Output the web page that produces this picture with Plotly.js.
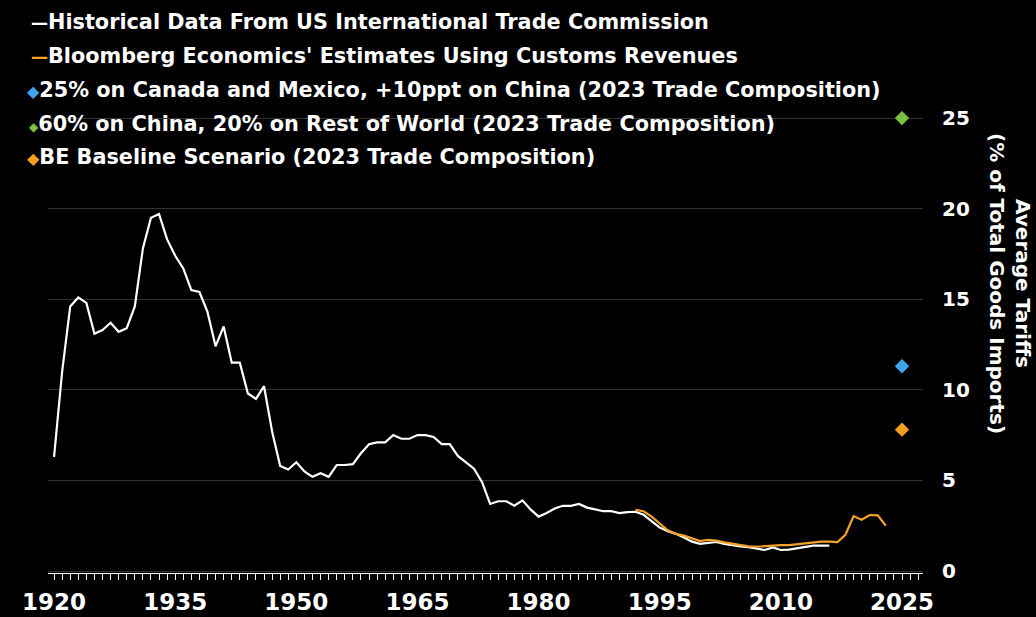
<!DOCTYPE html>
<html>
<head>
<meta charset="utf-8">
<script src="https://cdn.plot.ly/plotly-3.0.1.min.js"></script>
<style>
html,body{margin:0;padding:0;background:#000;}
#chart{width:1036px;height:617px;}
</style>
</head>
<body>
<div id="chart"></div>
<script>
// ---- data ----
const histYears = [];
for (let y = 1920; y <= 2016; y++) histYears.push(y);
const histValues = [
  6.3, 11.0, 14.6, 15.1, 14.8, 13.1, 13.3, 13.7, 13.2, 13.4,
  14.6, 17.8, 19.5, 19.7, 18.3, 17.4, 16.7, 15.5, 15.4, 14.3,
  12.4, 13.5, 11.5, 11.5, 9.8, 9.5, 10.2, 7.7, 5.8, 5.6,
  6.0, 5.5, 5.2, 5.4, 5.2, 5.85, 5.85, 5.9, 6.5, 7.0,
  7.1, 7.1, 7.5, 7.3, 7.3, 7.5, 7.5, 7.4, 7.0, 7.0,
  6.35, 6.0, 5.65, 4.9, 3.7, 3.85, 3.85, 3.6, 3.9, 3.4,
  3.0, 3.2, 3.45, 3.6, 3.6, 3.7, 3.5, 3.4, 3.3, 3.3,
  3.2, 3.25, 3.27, 3.1, 2.75, 2.4, 2.2, 2.05, 1.85, 1.62,
  1.5, 1.55, 1.6, 1.5, 1.42, 1.36, 1.32, 1.25, 1.16, 1.3,
  1.16, 1.18, 1.25, 1.32, 1.4, 1.4, 1.4
];
const estYears = [];
for (let y = 1992; y <= 2023; y++) estYears.push(y);
const estValues = [
  3.37, 3.3, 3.0, 2.6, 2.25, 2.05, 1.95, 1.8, 1.65, 1.72,
  1.68, 1.58, 1.5, 1.4, 1.36, 1.34, 1.38, 1.43, 1.43, 1.43,
  1.48, 1.53, 1.58, 1.62, 1.62, 1.6, 2.0, 3.03, 2.83, 3.09,
  3.07, 2.5
];
const scenarioYear = [2025];
const scenCanMex = [11.3];
const scenChinaRow = [25.0];
const scenBaseline = [7.8];

const seriesNames = [
  "Historical Data From US International Trade Commission",
  "Bloomberg Economics' Estimates Using Customs Revenues",
  "25% on Canada and Mexico, +10ppt on China (2023 Trade Composition)",
  "60% on China, 20% on Rest of World (2023 Trade Composition)",
  "BE Baseline Scenario (2023 Trade Composition)"
];
const seriesColors = ["#ffffff", "#f2a22a", "#41a5ee", "#79c043", "#f5a020"];
const xTickVals = [1920, 1935, 1950, 1965, 1980, 1995, 2010, 2025];
const yTickVals = [0, 5, 10, 15, 20, 25];
const yTitle = "Average Tariffs<br>(% of Total Goods Imports)";

// ---- geometry helpers (pixel -> paper) ----
const W = 1036, H = 617;
const M = {l: 48, r: 113, t: 5, b: 44};
const pw = W - M.l - M.r, ph = H - M.t - M.b;
const px = x => (x - M.l) / pw;
const py = y => (H - M.b - y) / ph;

const FONT = "DejaVu Sans, Verdana, sans-serif";

const traces = [
  {x: histYears, y: histValues, type: "scatter", mode: "lines", name: seriesNames[0],
   line: {color: seriesColors[0], width: 2.2}},
  {x: estYears, y: estValues, type: "scatter", mode: "lines", name: seriesNames[1],
   line: {color: seriesColors[1], width: 2.2}},
  {x: scenarioYear, y: scenCanMex, type: "scatter", mode: "markers", name: seriesNames[2],
   marker: {symbol: "diamond", size: 11, color: seriesColors[2]}},
  {x: scenarioYear, y: scenChinaRow, type: "scatter", mode: "markers", name: seriesNames[3],
   marker: {symbol: "diamond", size: 11, color: seriesColors[3]}},
  {x: scenarioYear, y: scenBaseline, type: "scatter", mode: "markers", name: seriesNames[4],
   marker: {symbol: "diamond", size: 11, color: seriesColors[4]}}
];

// legend drawn as annotations (rows)
const legendRowsY = [22, 56, 90, 124, 157];
const legendSymbols = [
  '<span style="color:' + seriesColors[0] + ';font-size:17px">—</span>',
  '<span style="color:' + seriesColors[1] + ';font-size:17px">—</span>',
  '<span style="color:' + seriesColors[2] + ';font-size:16px">◆</span>',
  '<span style="color:' + seriesColors[3] + ';font-size:12px">◆</span>',
  '<span style="color:' + seriesColors[4] + ';font-size:16px">◆</span>'
];
const legendX = [29, 29, 25, 27, 25];
const annotations = seriesNames.map((n, i) => ({
  xref: "paper", yref: "paper", x: px(legendX[i]), y: py(legendRowsY[i]),
  xanchor: "left", yanchor: "middle", showarrow: false,
  text: legendSymbols[i] + n,
  font: {family: FONT, size: 20.8, color: "#ffffff", weight: "bold"}
}));
annotations.push({
  xref: "paper", yref: "paper", x: px(1010), y: py(283),
  xanchor: "center", yanchor: "middle", showarrow: false,
  textangle: 90, text: yTitle,
  font: {family: FONT, size: 20, color: "#ffffff", weight: "bold"}
});

const layout = {
  width: W, height: H,
  paper_bgcolor: "#000000", plot_bgcolor: "#000000",
  margin: M,
  showlegend: false,
  xaxis: {
    range: [1919.25, 2027.6],
    tickmode: "array", tickvals: xTickVals,
    ticks: "outside", ticklen: 6, tickwidth: 1, tickcolor: "#ffffff",
    minor: {dtick: 1, tick0: 1920, ticks: "outside", ticklen: 6, tickwidth: 1, tickcolor: "#ffffff", showgrid: false},
    showline: true, linecolor: "#ffffff", linewidth: 1,
    showgrid: false, zeroline: false,
    ticklabelstandoff: 2,
    tickfont: {family: FONT, size: 23, color: "#ffffff", weight: "bold"}
  },
  yaxis: {
    side: "right",
    range: [-0.11, 31.24],
    tickmode: "array", tickvals: yTickVals,
    ticks: "", showline: false, zeroline: false,
    showgrid: true, gridcolor: "#333333", gridwidth: 1,
    ticklabelstandoff: 18,
    tickfont: {family: FONT, size: 20, color: "#ffffff", weight: "bold"}
  },
  annotations: annotations
};

Plotly.newPlot("chart", traces, layout, {displayModeBar: false, staticPlot: true});
</script>
</body>
</html>
